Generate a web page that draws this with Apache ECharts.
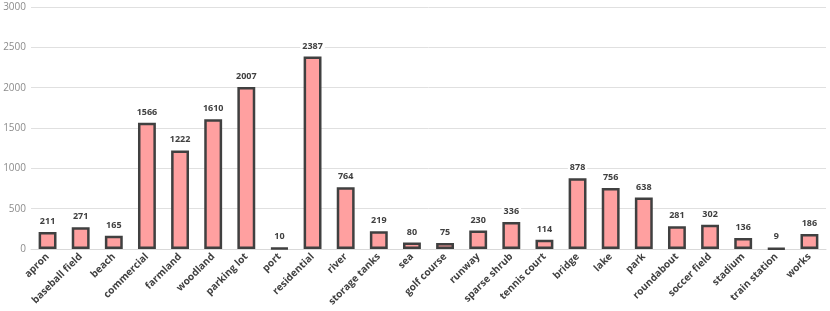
<!DOCTYPE html>
<html><head><meta charset="utf-8">
<script src="https://cdn.jsdelivr.net/npm/echarts@6/dist/echarts.min.js"></script>
<style>html,body{margin:0;padding:0;background:#fff}#c{width:830px;height:311px}</style>
</head><body><div id="c"></div>
<script>
const categories = ["apron","baseball field","beach","commercial","farmland","woodland","parking lot","port","residential","river","storage tanks","sea","golf course","runway","sparse shrub","tennis court","bridge","lake","park","roundabout","soccer field","stadium","train station","works"];
const values = [211,271,165,1566,1222,1610,2007,10,2387,764,219,80,75,230,336,114,878,756,638,281,302,136,9,186];
const yTicks = [0,500,1000,1500,2000,2500,3000];
const chart = echarts.init(document.getElementById('c'));
chart.setOption({
  animation:false,
  grid:{left:31,right:4,top:7,bottom:62},
  xAxis:{type:'category',data:categories,
    axisLine:{show:true,lineStyle:{color:'#d9d9d9'}},axisTick:{show:false},
    axisLabel:{rotate:45,interval:0,fontFamily:'Open Sans',fontWeight:'bold',fontSize:10,color:'#404040',margin:6}},
  yAxis:{type:'value',min:yTicks[0],max:yTicks[yTicks.length-1],interval:500,
    axisLine:{show:false},axisTick:{show:false},
    splitLine:{lineStyle:{color:'#e0e0e0'}},
    axisLabel:{fontFamily:'Open Sans',fontSize:10,color:'#8c8c8c',margin:5,formatter:v=>String(v)}},
  series:[{type:'bar',data:values,barWidth:'54%',
    itemStyle:{color:'#ffa0a0',borderColor:'#404040',borderWidth:2.5},
    label:{show:true,position:'top',distance:6,fontFamily:'Open Sans',fontWeight:'bold',fontSize:9,color:'#404040',backgroundColor:'#fff',padding:[0,2]}}]
});
</script></body></html>
